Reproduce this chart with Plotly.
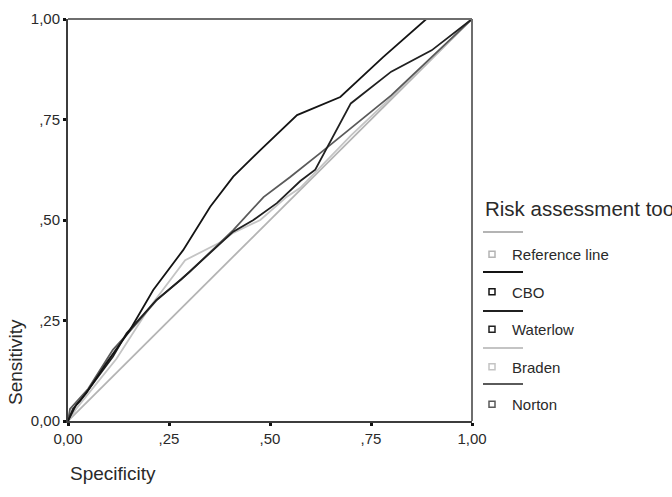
import plotly.graph_objects as go

# ---- data ----
series_names = ["Reference line", "CBO", "Waterlow", "Braden", "Norton"]

ref_x = [0, 1]
ref_y = [0, 1]

cbo_x = [0, 0.02, 0.045, 0.095, 0.153, 0.211, 0.285, 0.352, 0.409, 0.476, 0.567, 0.674, 0.78, 0.887, 1.0]
cbo_y = [0, 0.04, 0.069, 0.144, 0.226, 0.326, 0.425, 0.533, 0.608, 0.674, 0.761, 0.806, 0.905, 1.0, 1.0]

waterlow_x = [0, 0.012, 0.03, 0.062, 0.111, 0.145, 0.219, 0.28, 0.343, 0.409, 0.459, 0.517, 0.575, 0.612, 0.70, 0.80, 0.90, 1.0]
waterlow_y = [0, 0.03, 0.05, 0.094, 0.16, 0.218, 0.301, 0.352, 0.409, 0.471, 0.50, 0.542, 0.597, 0.625, 0.79, 0.869, 0.922, 1.0]

braden_x = [0, 0.02, 0.06, 0.12, 0.2, 0.29, 0.376, 0.409, 0.476, 0.542, 0.575, 0.70, 0.80, 1.0]
braden_y = [0, 0.03, 0.08, 0.155, 0.28, 0.40, 0.444, 0.468, 0.50, 0.558, 0.58, 0.71, 0.805, 1.0]

norton_x = [0, 0.005, 0.05, 0.111, 0.15, 0.219, 0.30, 0.409, 0.484, 0.55, 0.625, 0.674, 0.80, 0.90, 1.0]
norton_y = [0, 0.03, 0.08, 0.177, 0.22, 0.30, 0.37, 0.475, 0.557, 0.607, 0.667, 0.707, 0.81, 0.905, 1.0]

tick_vals = [0, 0.25, 0.5, 0.75, 1.0]
tick_text = ["0,00", ",25", ",50", ",75", "1,00"]

legend_title = "Risk assessment tool"
x_title = "Specificity"
y_title = "Sensitivity"

# ---- styles ----
FONT = "Liberation Sans, Arial, sans-serif"
colors = {"Reference line": "#b4b4b4", "CBO": "#141414", "Waterlow": "#202020",
          "Braden": "#c4c4c4", "Norton": "#5a5a5a"}
data = {"Reference line": (ref_x, ref_y), "CBO": (cbo_x, cbo_y),
        "Waterlow": (waterlow_x, waterlow_y), "Braden": (braden_x, braden_y),
        "Norton": (norton_x, norton_y)}

fig = go.Figure()
draw_order = ["Reference line", "Braden", "Norton", "Waterlow", "CBO"]
for name in draw_order:
    xs, ys = data[name]
    fig.add_trace(go.Scatter(x=xs, y=ys, mode="lines", name=name, showlegend=False,
                             line=dict(color=colors[name], width=1.8), hoverinfo="skip"))

# legend entries (square markers)
for i, name in enumerate(series_names):
    fig.add_trace(go.Scatter(x=[None], y=[None], mode="markers", name=name,
                             legendgroup=f"g{i}",
                             marker=dict(symbol="square-open", size=6,
                                         color=colors[name], line=dict(width=1.5, color=colors[name]))))

# page pixel -> paper coordinates (plot area spans 68..472 x, 19..421 y on the page)
def px_x(p):
    return (p - 68) / 404

def px_y(p):
    return (421 - p) / 402

# legend line samples above each entry
line_y_px = [232, 272, 311, 348, 384]
shapes = []
for name, py in zip(series_names, line_y_px):
    shapes.append(dict(type="line", xref="paper", yref="paper",
                       x0=px_x(483), x1=px_x(523), y0=px_y(py), y1=px_y(py),
                       line=dict(color=colors[name], width=1.8)))
# top and right borders
shapes.append(dict(type="line", xref="paper", yref="paper", x0=0, x1=1, y0=1, y1=1,
                   line=dict(color="#6e6e6e", width=2)))
shapes.append(dict(type="line", xref="paper", yref="paper", x0=1, x1=1, y0=0, y1=1,
                   line=dict(color="#6e6e6e", width=2)))

axis_common = dict(range=[0, 1], tickvals=tick_vals, ticktext=tick_text,
                   showgrid=False, zeroline=False, showline=True, linecolor="#3c3c3c",
                   linewidth=2, ticks="outside", ticklen=3, tickwidth=3, tickcolor="#111",
                   tickfont=dict(family=FONT, size=15, color="#2a2a2a"), fixedrange=True,
                   automargin=False)

fig.update_layout(
    width=672, height=497,
    margin=dict(l=68, r=200, t=19, b=76, autoexpand=False),
    paper_bgcolor="white", plot_bgcolor="white",
    xaxis=dict(**axis_common),
    yaxis=dict(**axis_common),
    showlegend=True,
    legend=dict(x=px_x(472), xanchor="left", y=px_y(238), yanchor="top",
                tracegroupgap=15, font=dict(family=FONT, size=15, color="#2a2a2a"),
                bgcolor="rgba(0,0,0,0)", itemclick=False, itemdoubleclick=False),
    shapes=shapes,
    annotations=[
        dict(text=legend_title, xref="paper", yref="paper", x=px_x(483),
             y=px_y(208), xanchor="left", yanchor="middle", showarrow=False,
             font=dict(family=FONT, size=20.5, color="#2a2a2a")),
        dict(text=x_title, xref="paper", yref="paper", x=0, y=px_y(473),
             xanchor="left", yanchor="middle", showarrow=False,
             font=dict(family=FONT, size=19, color="#2a2a2a")),
        dict(text=y_title, xref="paper", yref="paper", x=px_x(15),
             y=px_y(362), xanchor="center", yanchor="middle", textangle=-90,
             showarrow=False, font=dict(family=FONT, size=19, color="#2a2a2a")),
    ],
)

fig.write_html("out.html", config={"displayModeBar": False, "staticPlot": True},
               post_script="document.body.style.margin='0px';")
